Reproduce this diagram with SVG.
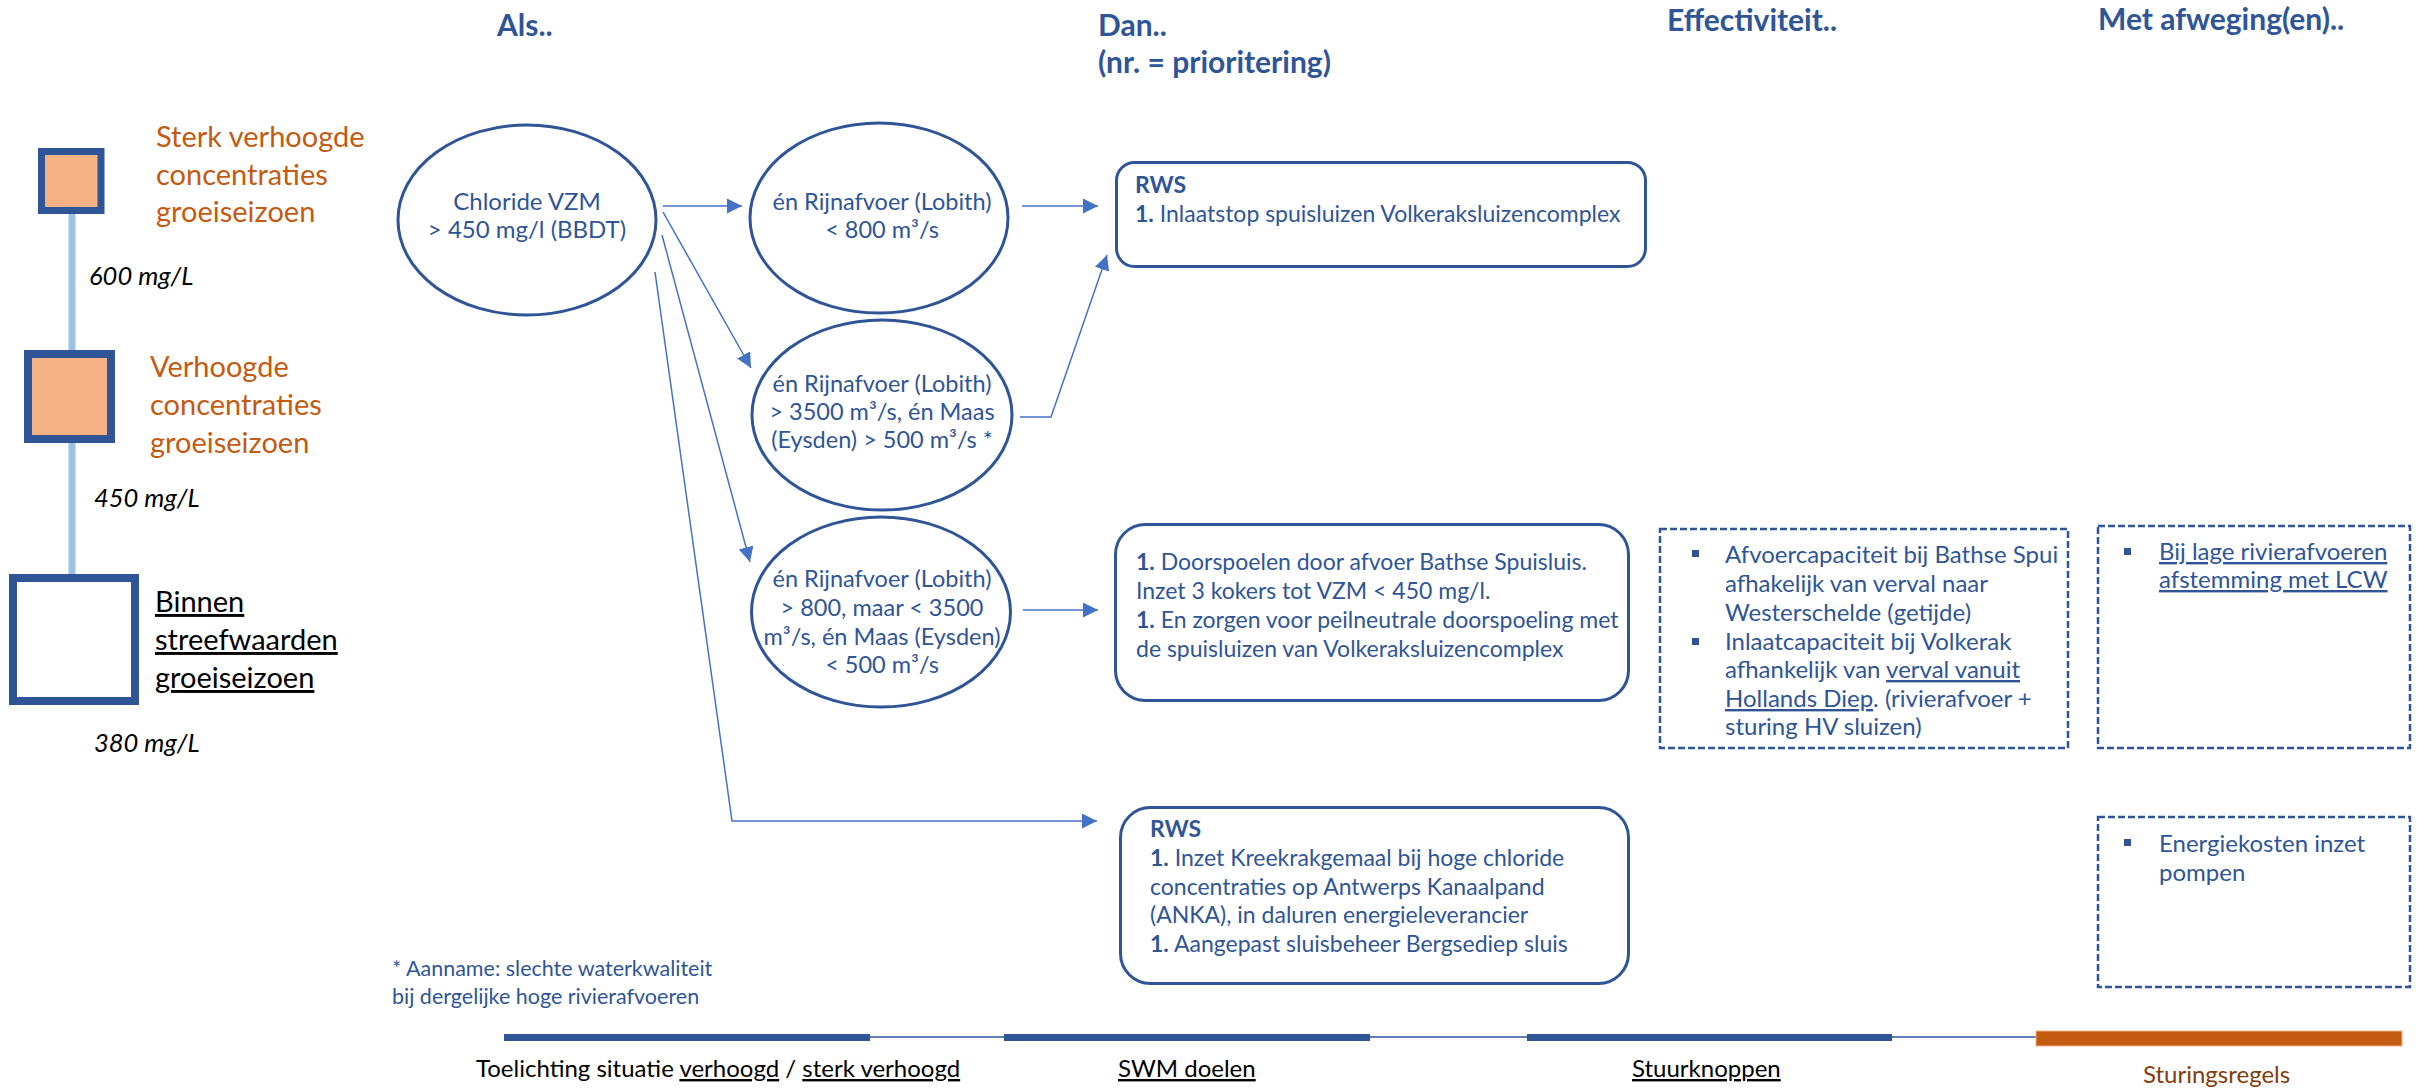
<svg xmlns="http://www.w3.org/2000/svg" width="2418" height="1088" viewBox="0 0 2418 1088">
<style>
text{font-family:Lato,'Liberation Sans',sans-serif;font-size:24px;fill:#2F5597}
.h{font-weight:bold;font-size:30px}
.b{font-weight:bold}
.c{font-size:23.5px}
.x{font-size:23px}
.fn{font-size:21.5px}
.lvl{font-size:29px;fill:#C55A11}
.blk{font-size:29px;fill:#000}
.it{font-style:italic;font-size:25.5px;fill:#000}
.lbl{fill:#000}
.u{text-decoration:underline}
.node{fill:none;stroke:#2F5597;stroke-width:3}
.dash{fill:none;stroke:#2F5597;stroke-width:2.5;stroke-dasharray:7 3}
.conn{stroke:#4472C4;stroke-width:1.5;fill:none;marker-end:url(#ah)}
.bul{fill:#2F5597}
.sq{stroke:#2F5597}
.bar{fill:#2F5597}
</style>
<defs>
<marker id="ah" markerUnits="userSpaceOnUse" markerWidth="16" markerHeight="16" refX="15" refY="7.5" orient="auto">
<path d="M0,0 L15,7.5 L0,15 z" fill="#4472C4"/>
</marker>
</defs>

<g id="titles">
<text class="h" x="497" y="36">Als..</text>
<text class="h" x="1098" y="36">Dan..</text>
<text class="h" x="1098" y="73">(nr. = prioritering)</text>
<text class="h" x="1667" y="31">Effectiviteit..</text>
<text class="h" x="2098" y="30">Met afweging(en)..</text>
</g>

<g id="legend">
<line x1="72" y1="214" x2="72" y2="350" stroke="#9DC3E6" stroke-width="7"/>
<line x1="72" y1="443" x2="72" y2="574" stroke="#9DC3E6" stroke-width="7"/>
<g id="level-sterk">
<rect class="sq" x="41.5" y="151.5" width="59.5" height="59" fill="#F4B183" stroke-width="7"/>
<text class="lvl" x="156" y="147">Sterk verhoogde</text>
<text class="lvl" x="156" y="184.5">concentraties</text>
<text class="lvl" x="156" y="222">groeiseizoen</text>
</g>
<text class="it" x="89" y="285">600 mg/L</text>
<g id="level-verhoogd">
<rect class="sq" x="28" y="354" width="83" height="85" fill="#F4B183" stroke-width="8"/>
<text class="lvl" x="150" y="377">Verhoogde</text>
<text class="lvl" x="150" y="415">concentraties</text>
<text class="lvl" x="150" y="453">groeiseizoen</text>
</g>
<text class="it" x="94" y="507">450 mg/L</text>
<g id="level-binnen">
<rect class="sq" x="13" y="578" width="122" height="123" fill="#fff" stroke-width="8"/>
<text class="blk u" x="155" y="612">Binnen</text>
<text class="blk u" x="155" y="650">streefwaarden</text>
<text class="blk u" x="155" y="688">groeiseizoen</text>
</g>
<text class="it" x="94" y="752">380 mg/L</text>
</g>

<g id="connectors">
<line class="conn" x1="663" y1="206" x2="742" y2="206"/>
<line class="conn" x1="1022" y1="206" x2="1098" y2="206"/>
<line class="conn" x1="663" y1="212" x2="751" y2="368"/>
<polyline class="conn" points="1020,417 1051,417 1107,255"/>
<line class="conn" x1="662" y1="235" x2="750" y2="562"/>
<line class="conn" x1="1023" y1="610" x2="1098" y2="610"/>
<polyline class="conn" points="655,272 732,821 1097,821"/>
</g>

<g id="chloride">
<ellipse class="node" cx="527" cy="220" rx="129" ry="95"/>
<text x="527" y="210" text-anchor="middle">Chloride VZM</text>
<text x="527" y="238" text-anchor="middle">&gt; 450 mg/l (BBDT)</text>
</g>
<g id="rijn-laag">
<ellipse class="node" cx="879" cy="218" rx="129" ry="95"/>
<text class="c" x="882" y="210" text-anchor="middle">én Rijnafvoer (Lobith)</text>
<text class="c" x="882" y="238" text-anchor="middle">&lt; 800 m³/s</text>
</g>
<g id="rijn-hoog">
<ellipse class="node" cx="882" cy="415" rx="130" ry="95"/>
<text class="c" x="882" y="392" text-anchor="middle">én Rijnafvoer (Lobith)</text>
<text class="c" x="882" y="420" text-anchor="middle">&gt; 3500 m³/s, én Maas</text>
<text class="c" x="882" y="448" text-anchor="middle">(Eysden) &gt; 500 m³/s *</text>
</g>
<g id="rijn-midden">
<ellipse class="node" cx="881" cy="612" rx="129.5" ry="95"/>
<text class="c" x="882" y="587" text-anchor="middle">én Rijnafvoer (Lobith)</text>
<text class="c" x="882" y="616" text-anchor="middle">&gt; 800, maar &lt; 3500</text>
<text class="c" x="882" y="645" text-anchor="middle">m³/s, én Maas (Eysden)</text>
<text class="c" x="882" y="673" text-anchor="middle">&lt; 500 m³/s</text>
</g>

<g id="actie-inlaatstop">
<rect class="node" x="1116.5" y="162.5" width="529" height="104" rx="18" ry="18"/>
<text class="x b" x="1135" y="193">RWS</text>
<text class="x" x="1135" y="222"><tspan class="b">1.</tspan> Inlaatstop spuisluizen Volkeraksluizencomplex</text>
</g>
<g id="actie-doorspoelen">
<rect class="node" x="1115.5" y="524.5" width="513" height="176" rx="30" ry="30"/>
<text class="x" x="1136" y="570"><tspan class="b">1.</tspan> Doorspoelen door afvoer Bathse Spuisluis.</text>
<text class="x" x="1136" y="599">Inzet 3 kokers tot VZM &lt; 450 mg/l.</text>
<text class="x" x="1136" y="628"><tspan class="b">1.</tspan> En zorgen voor peilneutrale doorspoeling met</text>
<text class="x" x="1136" y="657">de spuisluizen van Volkeraksluizencomplex</text>
</g>
<g id="actie-kreekrak">
<rect class="node" x="1120.5" y="807.5" width="508" height="176" rx="30" ry="30"/>
<text class="x b" x="1150" y="837">RWS</text>
<text class="x" x="1150" y="866"><tspan class="b">1.</tspan> Inzet Kreekrakgemaal bij hoge chloride</text>
<text class="x" x="1150" y="895">concentraties op Antwerps Kanaalpand</text>
<text class="x" x="1150" y="923">(ANKA), in daluren energieleverancier</text>
<text class="x" x="1150" y="952"><tspan class="b">1.</tspan> Aangepast sluisbeheer Bergsediep sluis</text>
</g>

<g id="effectiviteit">
<rect class="dash" x="1660" y="529" width="408" height="219"/>
<rect class="bul" x="1692" y="550" width="7" height="7"/>
<text x="1725" y="563">Afvoercapaciteit bij Bathse Spui</text>
<text x="1725" y="592">afhakelijk van verval naar</text>
<text x="1725" y="621">Westerschelde (getijde)</text>
<rect class="bul" x="1692" y="638" width="7" height="7"/>
<text x="1725" y="650">Inlaatcapaciteit bij Volkerak</text>
<text x="1725" y="678">afhankelijk van <tspan class="u">verval vanuit</tspan></text>
<text x="1725" y="707"><tspan class="u">Hollands Diep</tspan>. (rivierafvoer +</text>
<text x="1725" y="735">sturing HV sluizen)</text>
</g>
<g id="afweging-lcw">
<rect class="dash" x="2098" y="526" width="312" height="222"/>
<rect class="bul" x="2124" y="548" width="7" height="7"/>
<text class="u" x="2159" y="560">Bij lage rivierafvoeren</text>
<text class="u" x="2159" y="588">afstemming met LCW</text>
</g>
<g id="afweging-energie">
<rect class="dash" x="2098" y="817" width="312" height="170"/>
<rect class="bul" x="2124" y="839" width="7" height="7"/>
<text x="2159" y="852">Energiekosten inzet</text>
<text x="2159" y="881">pompen</text>
</g>

<g id="footnote">
<text class="fn" x="392" y="976">* Aanname: slechte waterkwaliteit</text>
<text class="fn" x="392" y="1004">bij dergelijke hoge rivierafvoeren</text>
</g>

<g id="timeline">
<line x1="504" y1="1037" x2="2036" y2="1037" stroke="#2F5597" stroke-width="1.5"/>
<rect class="bar" x="504" y="1034" width="366" height="7"/>
<rect class="bar" x="1004" y="1034" width="366" height="7"/>
<rect class="bar" x="1527" y="1034" width="365" height="7"/>
<rect x="2036" y="1031" width="366" height="15" fill="#C55A11" stroke="#F4B183" stroke-width="1"/>
<text class="lbl" x="476" y="1077">Toelichting situatie <tspan class="u">verhoogd</tspan> / <tspan class="u">sterk verhoogd</tspan></text>
<text class="lbl u" x="1118" y="1077">SWM doelen</text>
<text class="lbl u" x="1632" y="1077">Stuurknoppen</text>
<text x="2143" y="1083" style="fill:#843C0C">Sturingsregels</text>
</g>
</svg>
